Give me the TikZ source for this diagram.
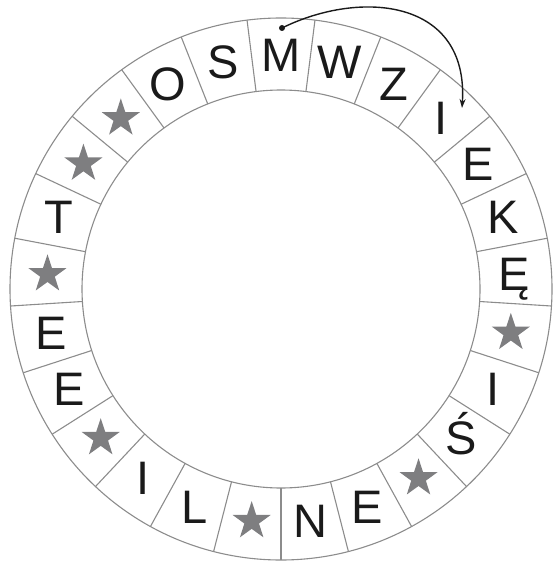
\documentclass[tikz,border=0pt]{standalone}
\usepackage{fontspec}
\setmainfont{Liberation Sans}
\usetikzlibrary{shapes.geometric,arrows.meta}
\definecolor{ringgray}{HTML}{8C8C8C}
\definecolor{stargray}{HTML}{7E7E80}
\definecolor{ink}{HTML}{1A1A1A}
\begin{document}
\begin{tikzpicture}[x=1pt,y=1pt,
  ring/.style={draw=ringgray,line width=1.1pt},
  letter/.style={font=\fontsize{47}{47}\selectfont,inner sep=0pt,text height=33pt,text depth=0pt,text=ink},
  starmark/.style={star,star points=5,star point ratio=2.6,minimum size=40pt,inner sep=0pt,fill=stargray,draw=none},
  pointer/.style={draw=ink,line width=1.4pt,-{Stealth[length=9pt,width=6pt]}}]
\useasboundingbox (0,0) rectangle (553,-561);
\begin{scope}[shift={(281,-289)}]
  \draw[ring] (0,0) circle (271);
  \draw[ring] (0,0) circle (199);
  \foreach \k in {0,...,24}
    \draw[ring] ({97.2-14.4*\k}:199) -- ({97.2-14.4*\k}:271);
  \foreach \i/\t in {0/M,1/W,2/Z,3/I,4/E,5/K,6/Ę,8/I,9/Ś,11/E,12/N,14/L,15/I,17/E,18/E,20/T,23/O,24/S}
    \node[letter] (L\i) at ({90-14.4*\i}:234) {\t};
  \foreach \i in {7,10,13,16,19,21,22}
    \node[starmark] (S\i) at ({90-14.4*\i}:234) {};
  \node[circle,fill=ink,inner sep=0pt,minimum size=6pt] (dot) at (1,261) {};
  \coordinate (tip) at (181,181);
  \draw[pointer] (dot.center) .. controls (80,300) and (188,290) .. (tip);
\end{scope}
\end{tikzpicture}
\end{document}
